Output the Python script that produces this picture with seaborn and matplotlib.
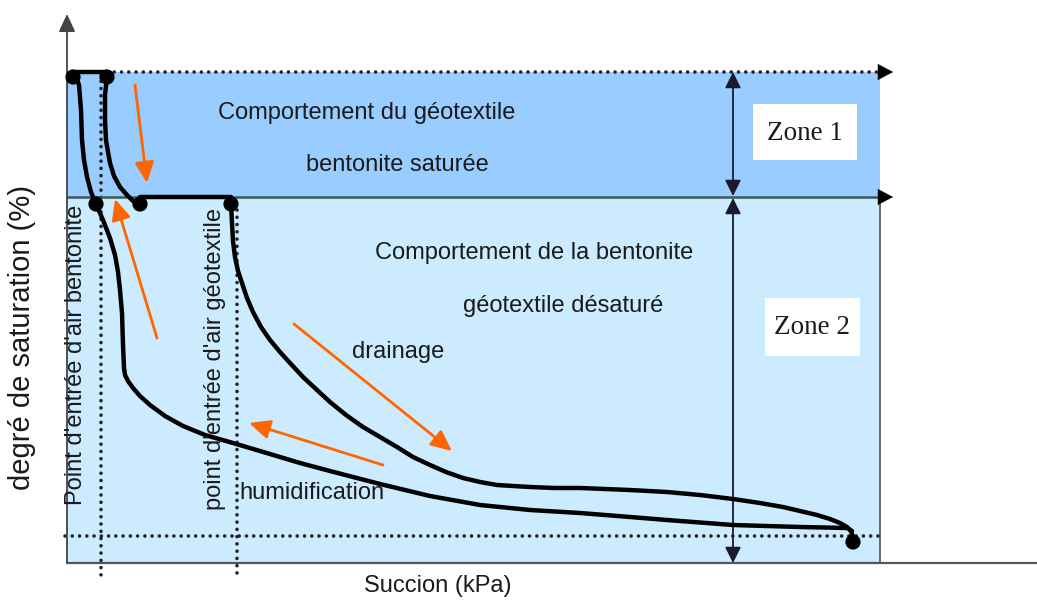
import matplotlib
matplotlib.use("Agg")
import matplotlib.pyplot as plt
import seaborn as sns
from matplotlib.patches import Rectangle

# Schéma : coordonnées dans le repère de la figure (x vers la droite, y vers le bas)

# branche bentonite (humidification), de la saturation vers la succion max
humid_x = [76, 79, 81, 82, 84, 87, 91, 96, 103, 110, 115, 118, 120, 122, 123, 124, 125, 128, 133, 140, 150,
           165, 183, 205, 233, 270, 300, 330, 380, 430, 480, 530, 580, 630, 667, 733, 800, 847, 852]
humid_y = [76, 85, 110, 140, 160, 177, 192, 204, 220, 238, 255, 272, 290, 313, 345, 368, 375, 381, 388, 396, 405,
           416, 426, 435, 443, 454, 463, 471, 484, 496, 505, 510, 513, 517, 520, 525, 527, 528, 531]

# branche géotextile, partie haute (zone 1)
geo_x = [107, 105, 105, 106, 108, 110, 114, 120, 127, 133, 140]
geo_y = [77, 95, 120, 140, 152, 163, 176, 187, 195, 201, 204]

# palier à la frontière des zones
palier_x = [140, 231]
palier_y = [197, 197]

# palier de saturation en haut
sat_x = [73, 107]
sat_y = [72, 72]

# courbe de drainage
drain_x = [231, 232, 233, 235, 238, 242, 247, 253, 261, 270, 280, 290, 303, 317, 330, 346, 363, 380, 397,
           413, 430, 446, 463, 480, 497, 513, 530, 555, 580, 630, 667, 700, 733, 760, 783, 800, 817, 830,
           840, 847, 851, 853]
drain_y = [204, 223, 241, 257, 271, 283, 298, 312, 327, 340, 352, 363, 377, 390, 402, 415, 427, 437, 447,
           457, 465, 472, 478, 482, 485, 486, 487, 488, 488, 490, 492, 495, 499, 503, 507, 511, 515, 519,
           523, 527, 531, 537]

# points remarquables
pts_x = [73, 107, 96, 140, 231, 853]
pts_y = [77, 77, 204, 204, 204, 542]

# flèches orange (départ -> arrivée)
fleches = [((135, 85), (147, 183)),
           ((157, 338), (115, 199)),
           ((294, 324), (452, 451)),
           ((383, 465), (249, 423))]

bleu_z1 = "#99CCFF"
bleu_z2 = "#CCEBFF"
orange = "#FF6600"
texte = "#1a1a1a"

sns.set_style("white")
plt.rcParams["font.family"] = ["Liberation Sans", "DejaVu Sans"]

fig = plt.figure(figsize=(10.37, 6.02), dpi=100)
ax = fig.add_axes([0, 0, 1, 1])

# zones
ax.add_patch(Rectangle((67, 72), 813, 125, facecolor=bleu_z1, edgecolor="none", zorder=0))
ax.add_patch(Rectangle((67, 197), 813, 366, facecolor=bleu_z2, edgecolor="none", zorder=0))
ax.plot([880, 880], [197, 563], color="#666666", lw=1.4, zorder=1)

# axes du schéma
ax.plot([67, 1037], [563, 563], color="#555555", lw=1.6, zorder=2)
ax.annotate("", xy=(67, 14), xytext=(67, 563),
            arrowprops=dict(arrowstyle="-|>,head_length=0.6,head_width=0.28", color="#444444",
                            lw=1.3, mutation_scale=18, shrinkA=0, shrinkB=0), zorder=3)

# lignes pointillées
dot = (0, (0.01, 2.0))
for lx, ly in [([107, 882], [72, 72]), ([65, 880], [536, 536]),
               ([101, 101], [74, 578]), ([237, 237], [210, 573])]:
    ax.plot(lx, ly, color="#222222", lw=2.6, ls=dot, dash_capstyle="round", zorder=2)

# frontière entre zones
ax.plot([67, 882], [197, 197], color="#3c5a5a", lw=1.8, zorder=2)
for yy in [72, 197]:
    ax.annotate("", xy=(893, yy), xytext=(879, yy),
                arrowprops=dict(arrowstyle="-|>,head_length=0.6,head_width=0.32", color="black",
                                lw=0.5, mutation_scale=17, shrinkA=0, shrinkB=0), zorder=3)

# doubles flèches des zones
for y0, y1 in [(72, 196), (198, 563)]:
    ax.annotate("", xy=(733, y0), xytext=(733, y1),
                arrowprops=dict(arrowstyle="<|-|>,head_length=0.6,head_width=0.3", color="#1a1a2e",
                                lw=1.3, mutation_scale=16, shrinkA=0, shrinkB=0), zorder=3)

# courbes
for cx, cy in [(humid_x, humid_y), (geo_x, geo_y), (palier_x, palier_y), (sat_x, sat_y), (drain_x, drain_y)]:
    sns.lineplot(x=cx, y=cy, sort=False, estimator=None, color="black", linewidth=3.2,
                 solid_joinstyle="round", solid_capstyle="round", ax=ax, zorder=4)
sns.scatterplot(x=pts_x, y=pts_y, color="black", s=120, edgecolor="none", ax=ax, zorder=5)

# flèches orange
for (x0, y0), (x1, y1) in fleches:
    ax.annotate("", xy=(x1, y1), xytext=(x0, y0),
                arrowprops=dict(arrowstyle="-|>,head_length=0.7,head_width=0.32", color=orange,
                                lw=2.0, mutation_scale=18, shrinkA=0, shrinkB=0), zorder=4)

# boîtes des zones
ax.add_patch(Rectangle((753, 104), 104, 56, facecolor="white", edgecolor="none", zorder=3))
ax.add_patch(Rectangle((765, 298), 95, 58, facecolor="white", edgecolor="none", zorder=3))
ax.text(805, 133, "Zone 1", ha="center", va="center", fontsize=19.5, family="Liberation Serif",
        color=texte, zorder=6)
ax.text(812, 327, "Zone 2", ha="center", va="center", fontsize=19.5, family="Liberation Serif",
        color=texte, zorder=6)

# textes
ax.text(367, 113, "Comportement du géotextile", ha="center", va="center", fontsize=17, color=texte, zorder=6)
ax.text(397, 165, "bentonite saturée", ha="center", va="center", fontsize=17, color=texte, zorder=6)
ax.text(534, 253, "Comportement de la bentonite", ha="center", va="center", fontsize=17, color=texte, zorder=6)
ax.text(563, 306, "géotextile désaturé", ha="center", va="center", fontsize=17, color=texte, zorder=6)
ax.text(398, 352, "drainage", ha="center", va="center", fontsize=17, color=texte, zorder=6)
ax.text(312, 493, "humidification", ha="center", va="center", fontsize=17, color=texte, zorder=6)
ax.text(76, 355, "Point d'entrée d'air bentonite", ha="center", va="center", rotation=90,
        fontsize=17, color=texte, zorder=6)
ax.text(215, 359, "point d'entrée d'air géotextile", ha="center", va="center", rotation=90,
        fontsize=17, color=texte, zorder=6)
ax.text(438, 586, "Succion (kPa)", ha="center", va="center", fontsize=17, color=texte, zorder=6)
ax.text(22, 337, "degré de saturation (%)", ha="center", va="center", rotation=90,
        fontsize=21, color=texte, zorder=6)

ax.set_xlim(0, 1037)
ax.set_ylim(602, 0)
ax.axis("off")

fig.savefig("out.png", dpi=100)
